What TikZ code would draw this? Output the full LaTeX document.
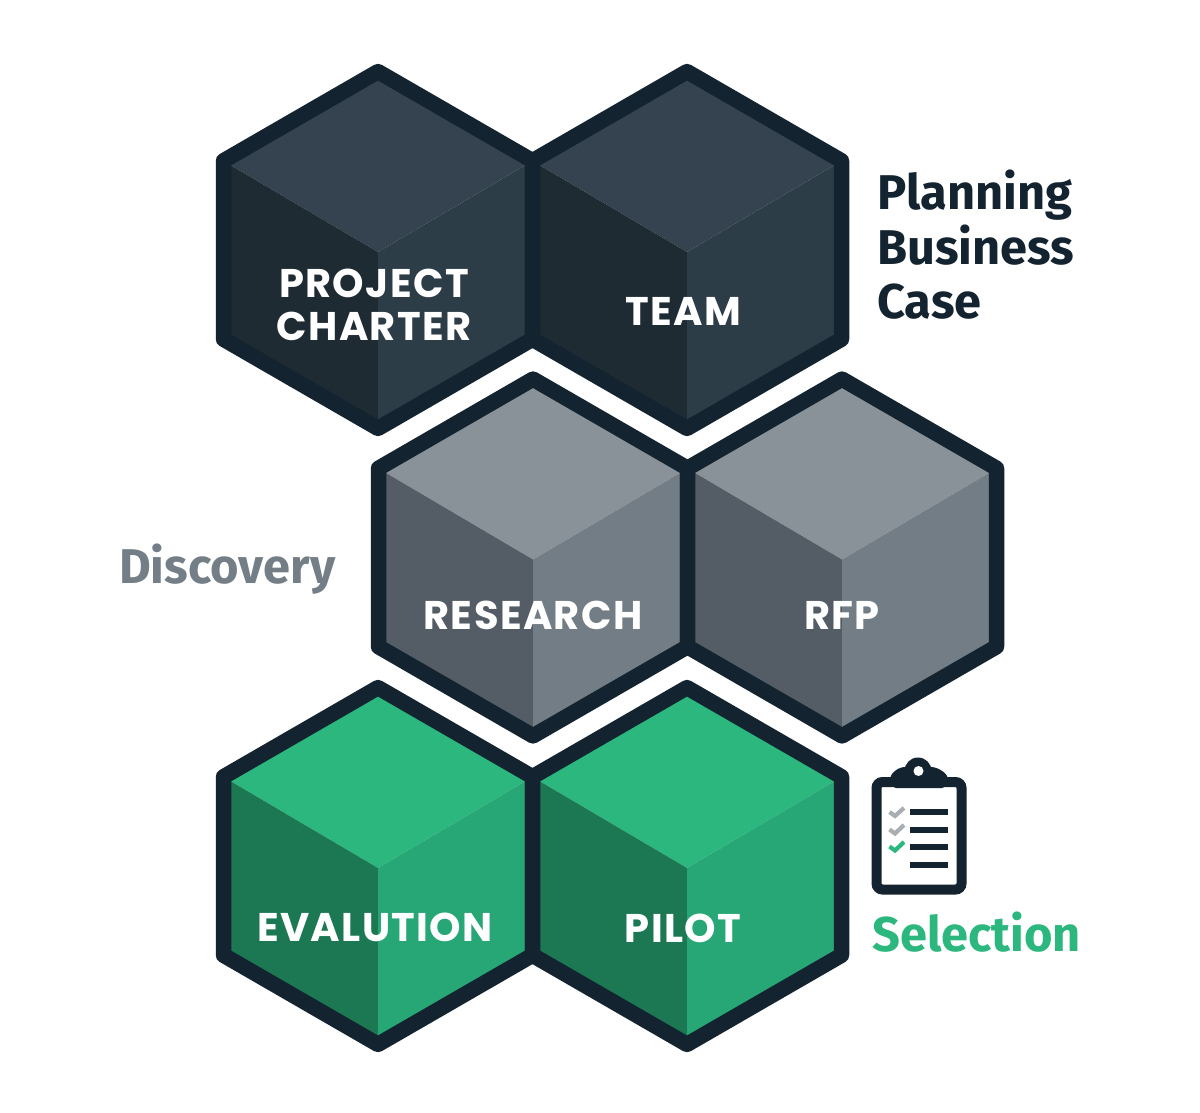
\documentclass[tikz,border=0pt]{standalone}
\usepackage{fontspec}
\newfontfamily\cubefont[LetterSpace=3.5]{Poppins}
\newfontfamily\headfont{Fira Sans}
\definecolor{edge}{HTML}{132430}
\definecolor{datop}{HTML}{34434F}
\definecolor{daleft}{HTML}{1F2B33}
\definecolor{daright}{HTML}{2D3D48}
\definecolor{grtop}{HTML}{8A9299}
\definecolor{grleft}{HTML}{545D65}
\definecolor{grright}{HTML}{737D85}
\definecolor{grntop}{HTML}{2BB77E}
\definecolor{grnleft}{HTML}{1C7853}
\definecolor{grnright}{HTML}{27A775}
\definecolor{headgray}{HTML}{747E86}
\definecolor{checkgray}{HTML}{A9AEB2}
\tikzset{
  x=1pt,y=-1pt,
  cubelabel/.style={text=white,font=\cubefont\bfseries\fontsize{40}{43}\selectfont,align=center,inner sep=0pt},
  headlabel/.style={font=\headfont\bfseries\fontsize{48.8}{54.5}\selectfont,align=left,anchor=north west,inner sep=0pt},
  rim/.style={draw=edge,line width=15.5pt,line join=round},
  tick/.style={line width=4.2pt,line cap=butt,line join=miter},
  rule/.style={edge,line width=6pt}
}
% #1,#2 centre; #3 top, #4 left, #5 right colour
\newcommand{\cubehex}[5]{%
  \fill[#3] (#1,#2+2) -- ++(-154.5,-91) -- ++(154.5,-89) -- ++(154.5,89) -- cycle;
  \fill[#4] (#1,#2+2) -- ++(-154.5,-91) -- ++(0,178) -- ++(154.5,91) -- cycle;
  \fill[#5] (#1,#2+2) -- ++(154.5,-91) -- ++(0,178) -- ++(-154.5,91) -- cycle;
  \draw[rim] (#1,#2) ++(0,-178.4) -- ++(154.5,89.2) -- ++(0,178.4) -- ++(-154.5,89.2) -- ++(-154.5,-89.2) -- ++(0,-178.4) -- cycle;
}
\begin{document}
\begin{tikzpicture}
\useasboundingbox[fill=white] (0,0) rectangle (1200,1113);
\cubehex{378}{250}{datop}{daleft}{daright}
\cubehex{687}{250}{datop}{daleft}{daright}
\cubehex{533}{557.5}{grtop}{grleft}{grright}
\cubehex{842}{557.5}{grtop}{grleft}{grright}
\cubehex{378}{866}{grntop}{grnleft}{grnright}
\cubehex{687}{866}{grntop}{grnleft}{grnright}

\node[cubelabel] (charter) at (374,305) {PROJECT\\CHARTER};
\node[cubelabel] (team) at (683,311) {TEAM};
\node[cubelabel] (research) at (533,615) {RESEARCH};
\node[cubelabel] (rfp) at (842,615) {RFP};
\node[cubelabel] (evalution) at (375,927) {EVALUTION};
\node[cubelabel] (pilot) at (683,928) {PILOT};

\node[headlabel,text=edge] (planning) at (877,170) {Planning\\Business\\Case};
\node[headlabel,text=headgray] (discovery) at (119,544) {Discovery};
\node[headlabel,text=grntop] (selection) at (872,912) {Selection};

% clipboard icon
\fill[edge] (918,771) circle (13.5);
\fill[edge,rounded corners=5pt] (890,790) -- (890,775) -- (900,767) -- (936,767) -- (948,775) -- (948,790) -- cycle;
\draw[edge,line width=10pt,rounded corners=6pt,fill=white] (876.5,782) rectangle (961.5,889.5);
\fill[edge,rounded corners=3pt] (893,777) rectangle (945,788);
\fill[white] (918.5,771) circle (5);
\draw[rule] (910,812) -- (948,812);
\draw[rule] (910,829.5) -- (948,829.5);
\draw[rule] (910,847) -- (948,847);
\draw[rule] (910,864.5) -- (948,864.5);
\draw[tick,checkgray] (889.5,812) -- (895,816) -- (904,808);
\draw[tick,checkgray] (889.5,829.5) -- (895,833.5) -- (904,825);
\draw[tick,grntop] (889.5,846.5) -- (895,850.5) -- (904,842);
\end{tikzpicture}
\end{document}
